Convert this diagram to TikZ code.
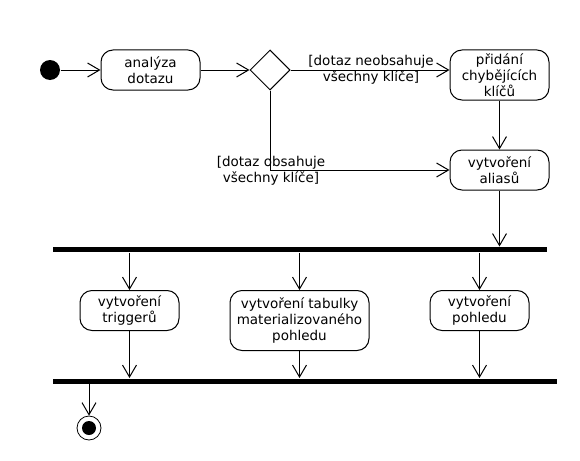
\documentclass[tikz,border=0pt]{standalone}
\usepackage{fontspec}
\setmainfont{DejaVu Sans}
\usetikzlibrary{arrows.meta,shapes.geometric}

\tikzset{
  activity/.style={draw,rounded corners=12pt,align=center,inner sep=2pt,
    minimum width=99pt,minimum height=40pt,font=\fontsize{13.5}{16}\selectfont},
  bar/.style={fill=black,inner sep=0pt,minimum height=5pt},
  guard/.style={align=center,inner sep=0pt,font=\fontsize{13.5}{16}\selectfont},
  flow/.style={-{Straight Barb[length=12pt,width=14pt]},line width=1pt}
}

\begin{document}
\begin{tikzpicture}[x=1pt,y=-1pt,line width=1pt]

      \useasboundingbox (0,0) rectangle (580,460);

      \node (start) [circle,fill=black,inner sep=0pt,minimum size=20pt] at (50,70) {};
      \node (dec) [diamond,draw,inner sep=0pt,minimum width=40pt,minimum height=40pt] at (270,70) {};

      \begin{scope}[every node/.style={activity}]
        \node (ana)   at (150.5,70)  {analýza\\dotazu};
        \node (prid)  [minimum height=50pt] at (499.5,75) {přidání\\chybějících\\klíčů};
        \node (alias) at (499.5,170) {vytvoření\\aliasů};
        \node (trig)  at (129.5,310.5) {vytvoření\\triggerů};
        \node (tab)   [minimum width=139pt,minimum height=60pt] at (299.5,320.5) {vytvoření tabulky\\materializovaného\\pohledu};
        \node (pohl)  at (479.5,310.5) {vytvoření\\pohledu};
      \end{scope}

      \begin{scope}[every node/.style={bar}]
        \node (fork) [minimum width=494pt] at (300,249.5) {};
        \node (join) [minimum width=504pt] at (305,381) {};
      \end{scope}

      \node (end) [circle,draw,line width=0.8pt,inner sep=0pt,minimum size=24pt] at (89,428) {};
      \fill (end.center) circle (7pt);

      \node (neobs) [guard] at (371,70) {[dotaz neobsahuje\\všechny klíče]};
      \node (obs)   [guard] at (271,171) {[dotaz obsahuje\\všechny klíče]};

      \begin{scope}[every edge/.style={draw,flow}]
        \path (start) edge (ana);
        \path (ana)   edge (dec);
        \path (dec)   edge (dec -| prid.west);
        \path (prid)  edge (alias);
        \path (alias) edge (alias.south |- fork.north);
        \path (fork.south -| trig) edge (trig);
        \path (fork.south -| tab)  edge (tab);
        \path (fork.south -| pohl) edge (pohl);
        \path (trig)  edge (trig.south |- join.north);
        \path (tab)   edge (tab.south |- join.north);
        \path (pohl)  edge (pohl.south |- join.north);
        \path (join.south -| end) edge (end);
      \end{scope}
      \draw[flow] (dec) |- (alias);

    \end{tikzpicture}
\end{document}
